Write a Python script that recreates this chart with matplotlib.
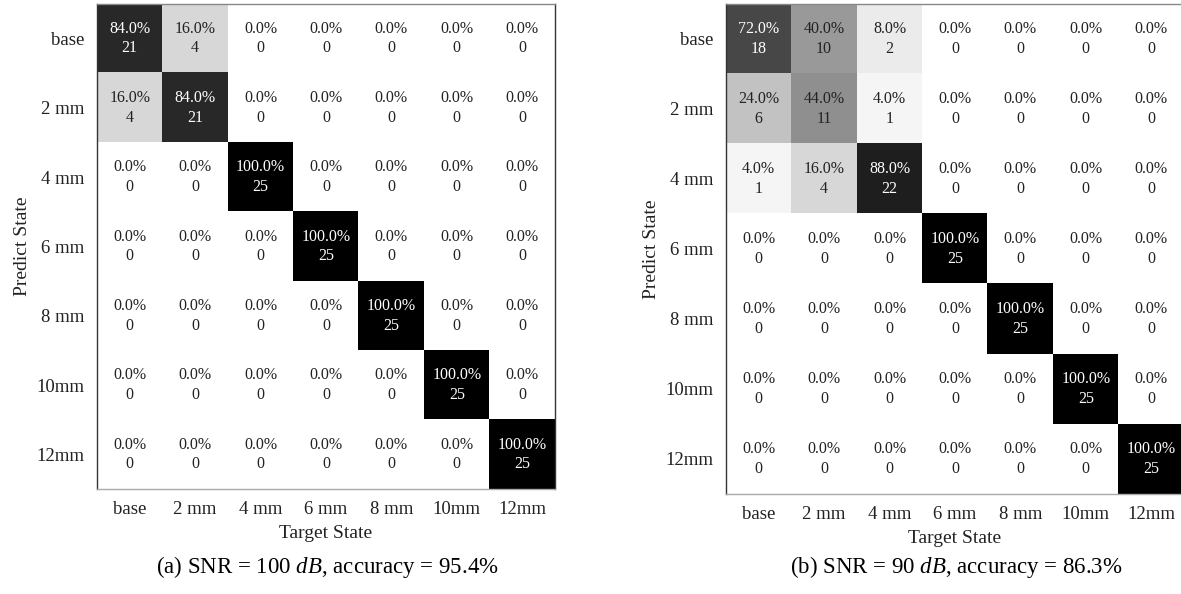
import numpy as np
import matplotlib
matplotlib.use('Agg')
import matplotlib.pyplot as plt

plt.rcParams['font.family'] = 'Liberation Serif'
plt.rcParams['mathtext.fontset'] = 'custom'
plt.rcParams['mathtext.rm'] = 'Liberation Serif'
plt.rcParams['mathtext.it'] = 'Liberation Serif:italic'

#####################################
# data: counts (rows = predict, cols = target)
#####################################
states = ['base', '2 mm', '4 mm', '6 mm', '8 mm', '10mm', '12mm']

counts_a = [[21, 4, 0, 0, 0, 0, 0],
            [4, 21, 0, 0, 0, 0, 0],
            [0, 0, 25, 0, 0, 0, 0],
            [0, 0, 0, 25, 0, 0, 0],
            [0, 0, 0, 0, 25, 0, 0],
            [0, 0, 0, 0, 0, 25, 0],
            [0, 0, 0, 0, 0, 0, 25]]

counts_b = [[18, 10, 2, 0, 0, 0, 0],
            [6, 11, 1, 0, 0, 0, 0],
            [1, 4, 22, 0, 0, 0, 0],
            [0, 0, 0, 25, 0, 0, 0],
            [0, 0, 0, 0, 25, 0, 0],
            [0, 0, 0, 0, 0, 25, 0],
            [0, 0, 0, 0, 0, 0, 25]]

captions = ['(a) SNR = 100 $dB$, accuracy = 95.4%',
            '(b) SNR = 90 $dB$, accuracy = 86.3%']

#####################################
# plotting
#####################################
fig = plt.figure(figsize=(11.81, 5.94), dpi=100)
ax_a = fig.add_axes([0.0821, 0.1768, 0.3878, 0.8165])
ax_b = fig.add_axes([0.6147, 0.1684, 0.3878, 0.825])


def draw_cm(ax, counts, caption, cap_x):
    cm = np.array(counts)
    pct = cm / cm.sum(axis=0, keepdims=True) * 100
    ax.imshow(cm, cmap='gray_r', vmin=0, vmax=25, aspect='auto',
              interpolation='nearest')
    for i in range(cm.shape[0]):
        for j in range(cm.shape[1]):
            col = 'white' if cm[i, j] > 12.5 else '#222222'
            ax.text(j, i, '%.1f%%\n%d' % (pct[i, j], cm[i, j]),
                    ha='center', va='center', fontsize=11.5, color=col,
                    linespacing=1.3)
    ax.set_xticks(range(len(states)))
    ax.set_yticks(range(len(states)))
    ax.set_xticklabels(states, fontsize=13.5, color='#222222')
    ax.set_yticklabels(states, fontsize=13.5, color='#222222')
    ax.tick_params(length=0, pad=9)
    ax.set_xlabel('Target State', fontsize=14, color='#222222', labelpad=5)
    ax.set_ylabel('Predict State', fontsize=14, color='#222222', labelpad=4)
    ax.spines['top'].set_color('#888888')
    ax.spines['bottom'].set_color('#aaaaaa')
    ax.spines['left'].set_color('#333333')
    ax.spines['right'].set_color('#333333')
    for s in ax.spines.values():
        s.set_linewidth(1.0)
    fig.text(cap_x, 1 - 567 / 594, caption, ha='center', va='center',
             fontsize=16.5, color='black')


draw_cm(ax_a, counts_a, captions[0], 327 / 1181)
draw_cm(ax_b, counts_b, captions[1], 956 / 1181)

fig.savefig('out.png', dpi=100)
